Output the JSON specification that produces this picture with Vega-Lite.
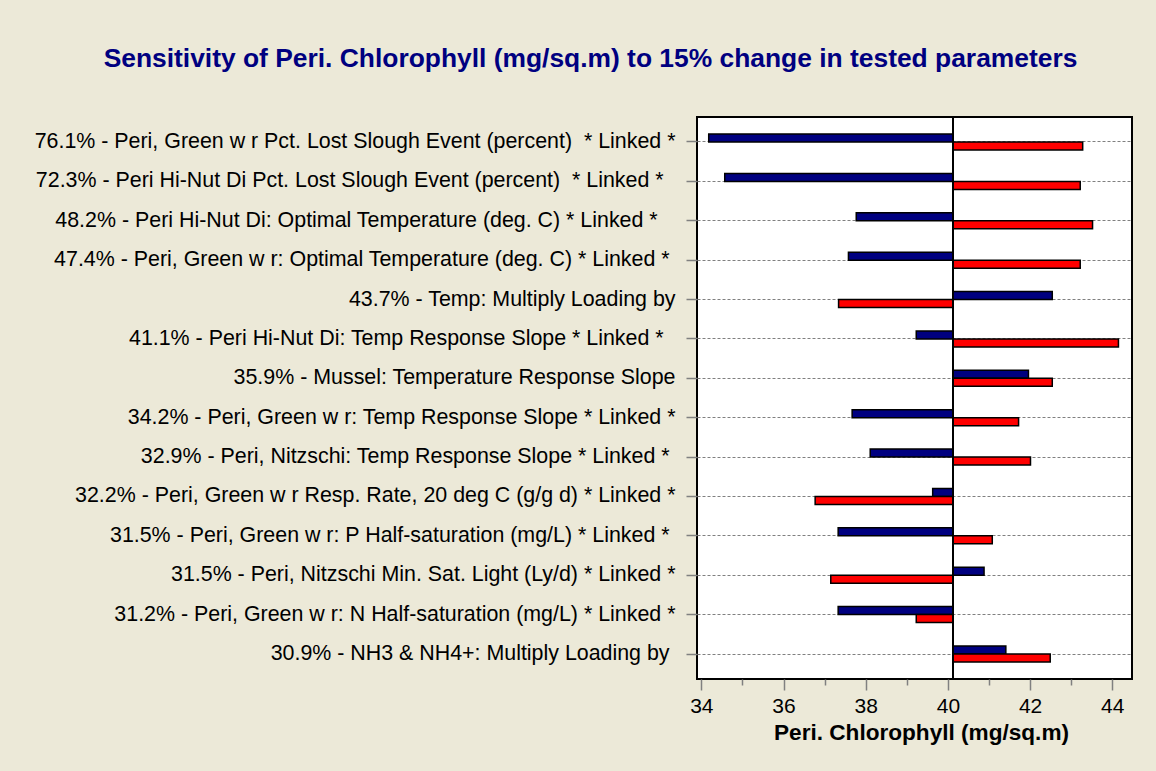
{
  "$schema": "https://vega.github.io/schema/vega-lite/v6.json",
  "width": 435,
  "height": 562,
  "autosize": "none",
  "padding": {"left": 697, "top": 117, "right": 24, "bottom": 92},
  "background": "#ECE9D8",
  "title": {
    "text": "Sensitivity of Peri. Chlorophyll (mg/sq.m) to 15% change in tested parameters",
    "color": "#000080",
    "font": "Liberation Sans",
    "fontSize": 26.4,
    "fontWeight": "bold",
    "anchor": "middle",
    "dx": -324,
    "offset": 44
  },
  "data": {
    "values": [
      {"param": "76.1% - Peri, Green w r Pct. Lost Slough Event (percent)\u00a0 * Linked *", "blue": 34.18, "red": 43.28},
      {"param": "72.3% - Peri Hi-Nut Di Pct. Lost Slough Event (percent)\u00a0 * Linked *\u00a0\u00a0\u200b", "blue": 34.57, "red": 43.22},
      {"param": "48.2% - Peri Hi-Nut Di: Optimal Temperature (deg. C) * Linked *\u00a0\u00a0\u00a0\u200b", "blue": 37.77, "red": 43.52},
      {"param": "47.4% - Peri, Green w r: Optimal Temperature (deg. C) * Linked *\u00a0\u200b", "blue": 37.58, "red": 43.22},
      {"param": "43.7% - Temp: Multiply Loading by", "blue": 42.54, "red": 37.34},
      {"param": "41.1% - Peri Hi-Nut Di: Temp Response Slope * Linked *\u00a0\u00a0\u200b", "blue": 39.23, "red": 44.15},
      {"param": "35.9% - Mussel: Temperature Response Slope", "blue": 41.96, "red": 42.54},
      {"param": "34.2% - Peri, Green w r: Temp Response Slope * Linked *", "blue": 37.67, "red": 41.72},
      {"param": "32.9% - Peri, Nitzschi: Temp Response Slope * Linked *\u00a0\u200b", "blue": 38.11, "red": 42.01},
      {"param": "32.2% - Peri, Green w r Resp. Rate, 20 deg C (g/g d) * Linked *", "blue": 39.63, "red": 36.77},
      {"param": "31.5% - Peri, Green w r: P Half-saturation (mg/L) * Linked *\u00a0\u200b", "blue": 37.33, "red": 41.08},
      {"param": "31.5% - Peri, Nitzschi Min. Sat. Light (Ly/d) * Linked *", "blue": 40.88, "red": 37.15},
      {"param": "31.2% - Peri, Green w r: N Half-saturation (mg/L) * Linked *", "blue": 37.33, "red": 39.23},
      {"param": "30.9% - NH3 & NH4+: Multiply Loading by\u00a0\u200b", "blue": 41.41, "red": 42.49}
    ]
  },
  "layer": [
    {
      "mark": {"type": "bar", "color": "#000080", "stroke": "black", "strokeWidth": 1.5, "height": 8, "yOffset": -4},
      "encoding": {
        "y": {
          "field": "param",
          "type": "nominal",
          "sort": null,
          "scale": {"paddingInner": 0, "paddingOuter": 0.1345},
          "axis": {
            "title": null,
            "domain": false,
            "labelFont": "Liberation Sans",
            "labelFontSize": 21.4,
            "labelColor": "black",
            "labelLimit": 0,
            "labelPadding": 11,
            "tickColor": "#808080",
            "tickSize": 11,
            "tickWidth": 1.5,
            "grid": true,
            "gridColor": "#808080",
            "gridDash": [3, 2],
            "gridWidth": 1
          }
        },
        "x": {
          "field": "blue",
          "type": "quantitative",
          "title": "Peri. Chlorophyll (mg/sq.m)",
          "scale": {"domain": [33.895, 44.48], "nice": false, "zero": false},
          "axis": {
            "values": [34, 34.5, 35, 35.5, 36, 36.5, 37, 37.5, 38, 38.5, 39, 39.5, 40, 40.5, 41, 41.5, 42, 42.5, 43, 43.5, 44],
            "labelExpr": "datum.value % 2 === 0 ? datum.label : ''",
            "tickSize": {"condition": {"test": "datum.value % 2 === 0", "value": 11}, "value": 6},
            "tickColor": "#808080",
            "tickWidth": 1.5,
            "domain": false,
            "grid": false,
            "labelFont": "Liberation Sans",
            "labelFontSize": 21,
            "labelColor": "black",
            "labelPadding": 5,
            "labelFlush": false,
            "labelOverlap": false,
            "titleFont": "Liberation Sans",
            "titleFontSize": 22.6,
            "titleFontWeight": "bold",
            "titleColor": "black",
            "titlePadding": 5,
            "titleX": 224
          }
        },
        "x2": {"datum": 40.12}
      }
    },
    {
      "mark": {"type": "bar", "color": "#FF0000", "stroke": "black", "strokeWidth": 1.5, "height": 8, "yOffset": 4},
      "encoding": {
        "y": {"field": "param", "type": "nominal", "sort": null},
        "x": {"field": "red", "type": "quantitative", "title": "Peri. Chlorophyll (mg/sq.m)"},
        "x2": {"datum": 40.12}
      }
    },
    {
      "mark": {"type": "rule", "color": "black", "strokeWidth": 1.5},
      "encoding": {"x": {"datum": 40.12}}
    }
  ],
  "config": {
    "view": {"fill": "white", "stroke": "black", "strokeWidth": 2}
  }
}
